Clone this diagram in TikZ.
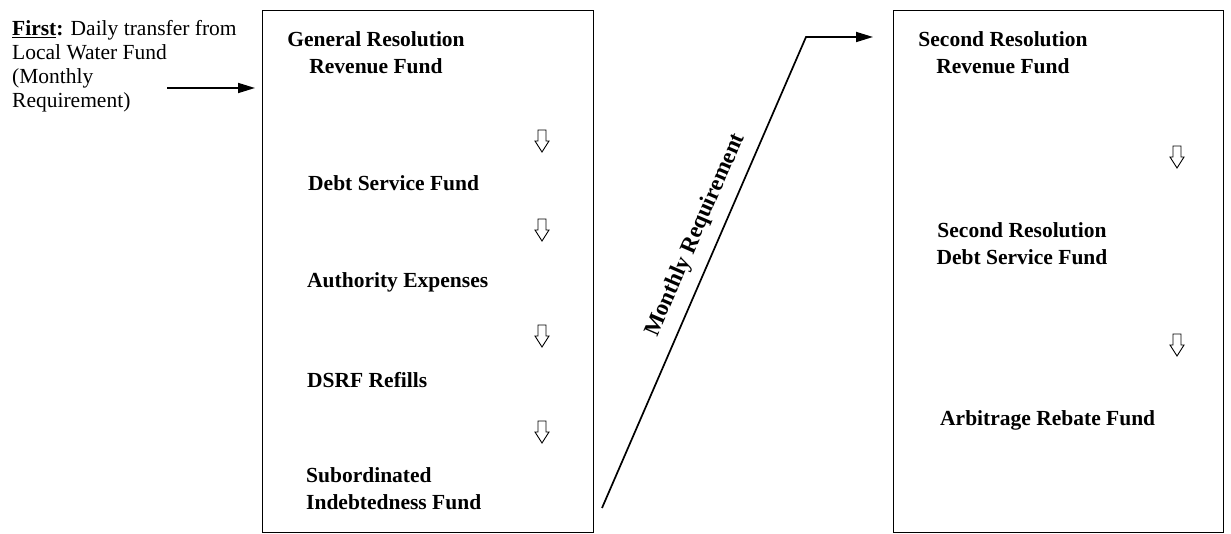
\documentclass[tikz,border=0pt]{standalone}
\usepackage{fontspec}
\setmainfont{Liberation Serif}
\usetikzlibrary{arrows.meta}
\tikzset{
  fundbox/.style={draw, line width=1.4pt, inner sep=0pt, anchor=north west},
  lbl/.style={font=\bfseries\fontsize{21.5}{27.5}\selectfont, inner sep=0pt},
  plain/.style={font=\fontsize{21.5}{24}\selectfont, inner sep=0pt},
  conn/.style={line width=1.7pt},
  harrow/.pic={\draw[line width=0.9pt, line join=miter] (-4,-11) -- (4,-11) -- (4,0) -- (7,0) -- (0,11) -- (-7,0) -- (-4,0) -- cycle;}
}
\begin{document}
\begin{tikzpicture}[x=1pt,y=-1pt]
\useasboundingbox (0,0) rectangle (1231,534);
% boxes
\node[fundbox, minimum width=331pt, minimum height=522pt] (gbox) at (262,10) {};
\node[fundbox, minimum width=330pt, minimum height=522pt] (rbox) at (893,10) {};
% intro text
\node[plain, align=left, anchor=north west] (intro) at (12,20)
  {\textbf{\underline{First}:} Daily transfer from\\Local Water Fund\\(Monthly\\Requirement)};
% left box texts
\node[lbl, align=center, anchor=north] (gr) at (376,31) {General Resolution\\Revenue Fund};
\node[lbl, anchor=base west] (ds) at (308,191) {Debt Service Fund};
\node[lbl, anchor=base west] (ae) at (307,288) {Authority Expenses};
\node[lbl, anchor=base west] (dsrf) at (307,387) {DSRF Refills};
\node[lbl, align=left, anchor=north west] (sub) at (306,467) {Subordinated\\Indebtedness Fund};
% right box texts
\node[lbl, align=center, anchor=north] (sr1) at (1003,31) {Second Resolution\\Revenue Fund};
\node[lbl, align=center, anchor=north] (sr2) at (1022,222) {Second Resolution\\Debt Service Fund};
\node[lbl, anchor=base west] (arb) at (940,425) {Arbitrage Rebate Fund};
% hollow arrows
\path (542,141) pic {harrow};
\path (542,230) pic {harrow};
\path (542,336) pic {harrow};
\path (542,432) pic {harrow};
\path (1177,157) pic {harrow};
\path (1177,345) pic {harrow};
% connectors
\coordinate (src) at (167,88);
\draw[conn, -{Triangle[length=17pt,width=10pt]}, shorten >=7pt] (src) -- (gbox.west |- src);
\coordinate (d0) at (602,508);
\coordinate (d1) at (806,37);
\draw[conn, -{Triangle[length=17pt,width=10pt]}, shorten >=20pt, line join=miter]
  (d0) -- node[pos=0.56, sloped, above=11pt, lbl, font=\bfseries\fontsize{23}{24}\selectfont] (mr) {Monthly Requirement} (d1) -- (rbox.west |- d1);
\end{tikzpicture}
\end{document}
